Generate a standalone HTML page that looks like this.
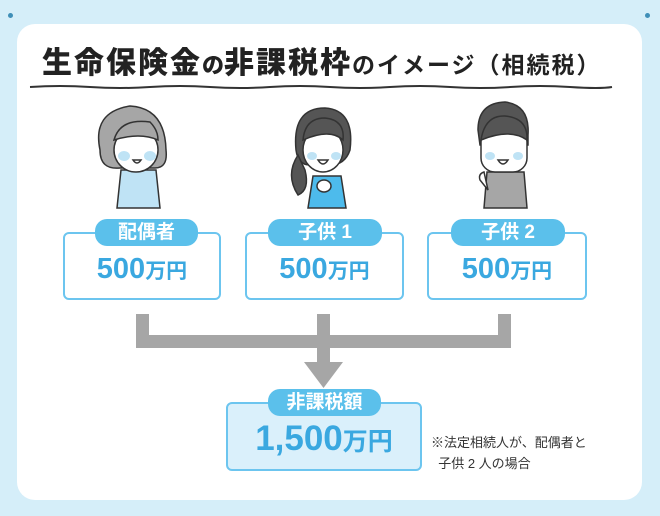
<!DOCTYPE html>
<html><head><meta charset="utf-8"><style>
*{margin:0;padding:0;box-sizing:border-box}
body{width:660px;height:516px;background:#d5eef9;position:relative;overflow:hidden;font-family:"Liberation Sans","Noto Sans CJK JP",sans-serif}
.card{position:absolute;left:17px;top:24px;width:625px;height:476px;background:#fff;border-radius:18px}
.dot{position:absolute;width:5px;height:5px;border-radius:50%;background:#3f8fb8}
.title{position:absolute;left:42px;top:38px;white-space:nowrap;font-weight:900;color:#222}
.b{font-size:30px;letter-spacing:2px}
.s{font-size:22px}
.m{font-size:23px;font-weight:bold;letter-spacing:2px}
.box{position:absolute;border:2px solid #6cc5ef;border-radius:6px;background:#fff}
.pill{position:absolute;background:#5bc0eb;border-radius:12px;color:#fff;font-weight:bold;text-align:center;font-size:19px;line-height:27px}
.amt{position:absolute;color:#3aa8e0;font-weight:bold;white-space:nowrap;text-align:center}
.note{position:absolute;left:431px;top:432px;font-size:13px;color:#333;line-height:21px}
</style></head><body>
<div class="dot" style="left:8px;top:13px"></div>
<div class="dot" style="left:645px;top:13px"></div>
<div class="card"></div>
<div class="title"><span class="b">生命保険金</span><span class="s">の</span><span class="b">非課税枠</span><span class="m">のイメージ（相続税）</span></div>
<svg style="position:absolute;left:0;top:0" width="660" height="516">
<path d="M30 87 Q60 85 90 87 T150 87 T210 87 T270 87 T330 87 T390 87 T450 87 T510 87 T570 87 T612 87" stroke="#333" stroke-width="2" fill="none"/>
<g stroke="#333" stroke-width="1.5">
<path d="M121 170 L117 208 L160 208 L156 170 Z" fill="#bfe3f5"/>
<path d="M100 150 Q92 112 130 106 Q165 108 166 150 Q168 168 155 168 L120 168 Q100 170 100 150Z" fill="#a6a6a6"/>
<ellipse cx="136" cy="150" rx="22" ry="22" fill="#fff"/>
<path d="M114 140 Q120 118 150 122 Q158 130 158 140 Q140 132 114 140Z" fill="#a6a6a6"/>
<ellipse cx="124" cy="156" rx="6" ry="5" fill="#bfe3f5" stroke="none"/><ellipse cx="150" cy="156" rx="6" ry="5" fill="#bfe3f5" stroke="none"/>
<path d="M133 160 Q137 166 141 160Z" fill="#fff"/>
</g>
<g stroke="#333" stroke-width="1.5">
<path d="M313 176 L308 208 L346 208 L341 176 Z" fill="#4dbbec"/>
<path d="M296 150 Q292 108 325 108 Q355 110 350 150 Q345 165 330 165 L310 165 Q298 165 296 150Z" fill="#555"/>
<ellipse cx="323" cy="150" rx="20" ry="22" fill="#fff"/>
<path d="M303 140 Q305 118 325 118 Q345 120 343 140 Q330 128 303 140Z" fill="#555"/>
<path d="M298 155 Q285 175 298 195 Q310 190 305 170Z" fill="#555"/>
<ellipse cx="312" cy="156" rx="5" ry="4" fill="#bfe3f5" stroke="none"/><ellipse cx="336" cy="156" rx="5" ry="4" fill="#bfe3f5" stroke="none"/>
<path d="M318 160 Q323 168 328 160Z" fill="#fff"/>
<ellipse cx="324" cy="186" rx="7" ry="6" fill="#fff"/>
</g>
<g stroke="#333" stroke-width="1.5">
<path d="M487 172 L484 208 L527 208 L524 172 Z" fill="#a6a6a6"/>
<path d="M480 180 Q478 174 484 172 L488 190Z" fill="#fff"/>
<path d="M478 130 Q478 103 505 102 Q530 105 528 135 L528 145 L480 145Z" fill="#555"/>
<rect x="481" y="128" width="46" height="44" rx="14" fill="#fff"/>
<path d="M481 140 Q485 115 505 116 Q528 118 527 140 Q510 128 481 140Z" fill="#555"/>
<ellipse cx="490" cy="156" rx="5" ry="4" fill="#bfe3f5" stroke="none"/><ellipse cx="518" cy="156" rx="5" ry="4" fill="#bfe3f5" stroke="none"/>
<path d="M498 160 Q503 168 508 160Z" fill="#fff"/>
</g>
<g fill="#a6a6a6">
<rect x="136" y="314" width="13" height="34"/>
<rect x="317" y="314" width="13" height="50"/>
<rect x="498" y="314" width="13" height="34"/>
<rect x="136" y="335" width="375" height="13"/>
<polygon points="304,362 343,362 323.5,388"/>
</g>
</svg>
<div class="box" style="left:63px;top:232px;width:158px;height:68px"></div>
<div class="box" style="left:245px;top:232px;width:159px;height:68px"></div>
<div class="box" style="left:427px;top:232px;width:160px;height:68px"></div>
<div class="pill" style="left:95px;top:219px;width:103px">配偶者</div>
<div class="pill" style="left:268px;top:219px;width:114px">子供 1</div>
<div class="pill" style="left:451px;top:219px;width:114px">子供 2</div>
<div class="amt" style="left:63px;top:253px;width:158px"><span style="font-size:29px">500</span><span style="font-size:21px">万円</span></div>
<div class="amt" style="left:245px;top:253px;width:159px"><span style="font-size:29px">500</span><span style="font-size:21px">万円</span></div>
<div class="amt" style="left:427px;top:253px;width:160px"><span style="font-size:29px">500</span><span style="font-size:21px">万円</span></div>
<div class="box" style="left:226px;top:402px;width:196px;height:69px;background:#daf0fb"></div>
<div class="pill" style="left:268px;top:389px;width:113px">非課税額</div>
<div class="amt" style="left:226px;top:419px;width:196px"><span style="font-size:35px">1,500</span><span style="font-size:25px">万円</span></div>
<div class="note">※法定相続人が、配偶者と<br>&nbsp;&nbsp;子供 2 人の場合</div>
</body></html>
